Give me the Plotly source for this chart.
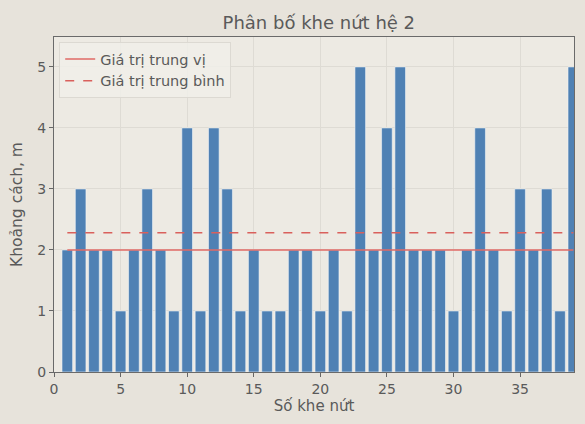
import plotly.graph_objects as go

# Crack spacing for joint set 2 (m), one value per crack
crack_no = list(range(1, 40))
spacing = [2, 3, 2, 2, 1, 2, 3, 2, 1, 4,
           1, 4, 3, 1, 2, 1, 1, 2, 2, 1,
           2, 1, 5, 2, 4, 5, 2, 2, 2, 1,
           2, 4, 2, 1, 3, 2, 3, 1, 5]

median_val = sorted(spacing)[len(spacing) // 2]
mean_val = sum(spacing) / len(spacing)
line_x = [crack_no[0], crack_no[-1]]

x_ticks = [0, 5, 10, 15, 20, 25, 30, 35]
y_ticks = [0, 1, 2, 3, 4, 5]

font_family = "DejaVu Sans, sans-serif"
text_color = "#5a5a5a"

fig = go.Figure()
fig.add_trace(go.Bar(
    x=crack_no, y=spacing, width=0.8,
    marker=dict(color="#4f81b4", line=dict(color="#f4f6f8", width=0.6)),
    showlegend=False,
))
fig.add_trace(go.Scatter(
    x=line_x, y=[median_val, median_val], mode="lines",
    line=dict(color="#e06a66", width=1.6),
    name="Giá trị trung vị",
))
fig.add_trace(go.Scatter(
    x=line_x, y=[mean_val, mean_val], mode="lines",
    line=dict(color="#d9605c", width=1.6, dash="dash"),
    name="Giá trị trung bình",
))

fig.update_layout(
    width=585, height=424,
    margin=dict(l=54, r=11, t=37, b=52),
    paper_bgcolor="#e7e3db",
    plot_bgcolor="#edeae3",
    font=dict(family=font_family, size=14, color=text_color),
    title=dict(text="Phân bố khe nứt hệ 2", x=0.545, xanchor="center",
               y=0.946, yanchor="middle",
               font=dict(size=18, color=text_color)),
    legend=dict(x=0.01, y=0.985, xanchor="left", yanchor="top",
                bgcolor="rgba(240,238,233,0.85)", bordercolor="#dcd9d2",
                borderwidth=1, font=dict(size=14.5, color=text_color),
                tracegroupgap=2),
    bargap=0.2,
)
fig.update_xaxes(
    range=[0, 39.05], tickvals=x_ticks, ticks="outside", ticklen=4,
    tickcolor="#666", showgrid=True, gridcolor="#dedbd4", gridwidth=1,
    showline=True, linecolor="#6a6a6a", mirror=True, zeroline=False,
    tickfont=dict(size=14),
    title=dict(text="Số khe nứt", standoff=3, font=dict(size=15)),
)
fig.update_yaxes(
    range=[0, 5.49], tickvals=y_ticks, ticks="outside", ticklen=4,
    tickcolor="#666", showgrid=True, gridcolor="#dedbd4", gridwidth=1,
    showline=True, linecolor="#6a6a6a", mirror=True, zeroline=False,
    tickfont=dict(size=14),
    title=dict(text="Khoảng cách, m", standoff=10, font=dict(size=15.5)),
)

fig.write_html("out.html")
